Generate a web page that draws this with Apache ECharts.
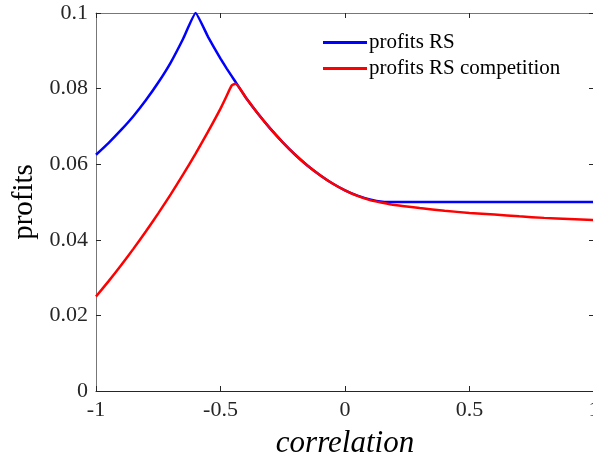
<!DOCTYPE html>
<html lang="en">
<head>
    <meta charset="UTF-8">
    <title>profits vs correlation</title>
    <script src="https://cdn.jsdelivr.net/npm/echarts@6/dist/echarts.min.js"></script>
    <style>
        html, body { margin: 0; padding: 0; background: #fff; }
        #chart { width: 593px; height: 460px; }
    </style>
</head>
<body>
<div id="chart"></div>
<script type="text/javascript">
    // values
    var correlation = [-1, -0.95, -0.9, -0.85, -0.8, -0.75, -0.7, -0.65, -0.6, -0.55, -0.5, -0.475, -0.455, -0.44,
        -0.4, -0.35, -0.3, -0.25, -0.2, -0.15, -0.1, -0.05, 0, 0.05, 0.1, 0.15, 0.2, 0.3, 0.4, 0.5, 0.6, 0.7, 0.8, 0.9, 1];
    var profitsRS = [0.0625, 0.0656, 0.069, 0.0727, 0.0769, 0.0816, 0.0869, 0.0932, 0.1, 0.0937, 0.0879, 0.0853, 0.0833, 0.0818,
        0.0778, 0.0734, 0.0694, 0.0658, 0.0625, 0.0596, 0.0571, 0.0549, 0.0531, 0.0517, 0.0507, 0.0501, 0.05, 0.05, 0.05, 0.05, 0.05, 0.05, 0.05, 0.05, 0.05];
    var profitsRSComp = [0.025, 0.029, 0.0332, 0.0376, 0.0422, 0.047, 0.052, 0.0573, 0.0628, 0.0686, 0.0747, 0.0781, 0.0808, 0.0813,
        0.0778, 0.0734, 0.0694, 0.0658, 0.0625, 0.0596, 0.0571, 0.0549, 0.0531, 0.0516, 0.0505, 0.0498, 0.0492, 0.0484, 0.0477, 0.0471, 0.0467, 0.0462, 0.0458, 0.0455, 0.0452];

    var serif = '"Liberation Serif", "DejaVu Serif", serif';
    var axisCol = '#262626';

    function pairs(ys) {
        return correlation.map(function (x, i) { return [x, ys[i]]; });
    }

    var myChart = echarts.init(document.getElementById('chart'));
    myChart.setOption({
        animation: false,
        backgroundColor: '#fff',
        grid: { left: 96, width: 498, top: 13, height: 378, outerBoundsMode: 'none' },
        legend: {
            top: 27,
            left: 318,
            orient: 'vertical',
            itemWidth: 44,
            itemHeight: 3,
            itemGap: 5,
            icon: 'rect',
            textStyle: { fontFamily: serif, fontSize: 21, color: '#000', padding: [0, 0, 0, -3] },
            data: ['profits RS', 'profits RS competition']
        },
        xAxis: [{
            type: 'value', min: -1, max: 1, interval: 0.5,
            name: 'correlation', nameLocation: 'middle', nameGap: 37,
            nameTextStyle: { fontFamily: serif, fontSize: 31, fontStyle: 'italic', color: '#000' },
            axisLine: { onZero: false, lineStyle: { color: axisCol, width: 1 } },
            axisTick: { inside: true, length: 5, lineStyle: { color: axisCol } },
            axisLabel: { fontFamily: serif, fontSize: 22, color: '#262626', margin: 8 },
            splitLine: { show: false }
        }, {
            type: 'value', min: -1, max: 1, interval: 0.5, position: 'top',
            axisLine: { onZero: false, lineStyle: { color: '#777', width: 1 } },
            axisTick: { inside: true, length: 5, lineStyle: { color: axisCol } },
            axisLabel: { show: false },
            splitLine: { show: false }
        }],
        yAxis: [{
            type: 'value', min: 0, max: 0.1, interval: 0.02,
            name: 'profits', nameLocation: 'middle', nameGap: 55, nameRotate: 90,
            nameTextStyle: { fontFamily: serif, fontSize: 29, color: '#000' },
            axisLine: { show: true, onZero: false, lineStyle: { color: '#777', width: 1 } },
            axisTick: { show: true, inside: true, length: 5, lineStyle: { color: axisCol } },
            axisLabel: { fontFamily: serif, fontSize: 22, color: '#262626', margin: 8 },
            splitLine: { show: false }
        }, {
            type: 'value', min: 0, max: 0.1, interval: 0.02, position: 'right',
            axisLine: { show: true, onZero: false, lineStyle: { color: '#777', width: 1 } },
            axisTick: { show: true, inside: true, length: 5, lineStyle: { color: axisCol } },
            axisLabel: { show: false },
            splitLine: { show: false }
        }],
        series: [
            {
                name: 'profits RS', type: 'line', showSymbol: false, symbol: 'none', smooth: 0.12,
                lineStyle: { color: '#0000ff', width: 2.5 }, itemStyle: { color: '#0000ff' },
                data: pairs(profitsRS)
            },
            {
                name: 'profits RS competition', type: 'line', showSymbol: false, symbol: 'none', smooth: 0.2,
                lineStyle: { color: '#ff0000', width: 2.5 }, itemStyle: { color: '#ff0000' },
                data: pairs(profitsRSComp)
            }
        ]
    });
</script>
</body>
</html>
